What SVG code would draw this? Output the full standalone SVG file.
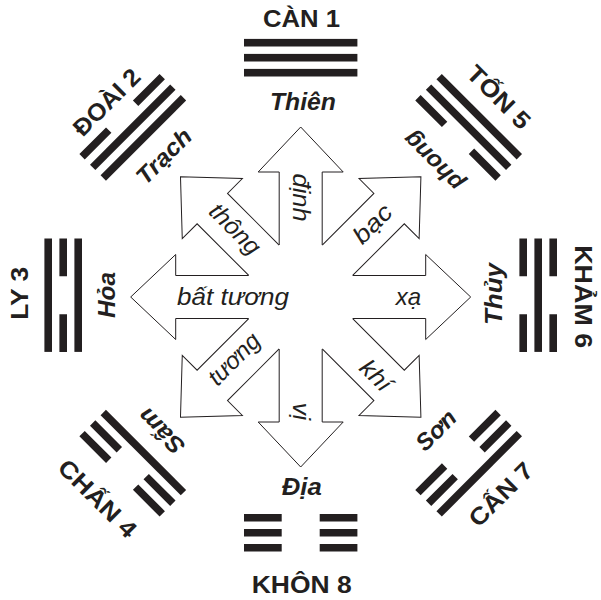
<svg xmlns="http://www.w3.org/2000/svg" width="601" height="600" viewBox="0 0 601 600">
<style>
text{font-family:"Liberation Sans",Arial,sans-serif;fill:#231f20;text-anchor:middle}
.name{font-size:24px;font-weight:bold}
.elem{font-size:23.5px;font-weight:bold;font-style:italic}
.lbl{font-size:24px;font-style:italic}
</style>
<defs>
<rect id="yang" x="-56.7" y="-3.8" width="113.4" height="7.6" fill="#231f20"/>
<path id="yin" d="M-56.7,-3.8h37.7v7.6h-37.7z M19,-3.8h37.7v7.6h-37.7z" fill="#231f20"/>
<path id="arr" d="M-21.5,-52 L-21.5,-125 L-42.5,-125 L0,-170 L42.5,-125 L21.5,-125 L21.5,-52" fill="#fff" stroke="#231f20" stroke-width="1"/>
</defs>
<rect width="601" height="600" fill="#fff"/>

<g id="arrows">
  <g id="arrow-up"><use href="#arr" transform="translate(300.7,297) rotate(0)"/>
    <text class="lbl" transform="translate(300,197.5) rotate(90)" y="6.8" textLength="48" lengthAdjust="spacingAndGlyphs">định</text></g>
  <g id="arrow-upleft"><use href="#arr" transform="translate(300.7,297) rotate(-45)"/>
    <text class="lbl" transform="translate(234,230) rotate(45)" y="6.6" textLength="62" lengthAdjust="spacingAndGlyphs">thông</text></g>
  <g id="arrow-upright"><use href="#arr" transform="translate(300.7,297) rotate(45)"/>
    <text class="lbl" transform="translate(372.5,224) rotate(-45)" y="7.9" textLength="45" lengthAdjust="spacingAndGlyphs">bạc</text></g>
  <g id="arrow-left"><use href="#arr" transform="translate(300.7,297) rotate(-90)"/>
    <text class="lbl" x="233" y="305" textLength="112" lengthAdjust="spacingAndGlyphs">bất tương</text></g>
  <g id="arrow-right"><use href="#arr" transform="translate(300.7,297) rotate(90)"/>
    <text class="lbl" x="408.4" y="305">xạ</text></g>
  <g id="arrow-downleft"><use href="#arr" transform="translate(300.7,297) rotate(-135)"/>
    <text class="lbl" transform="translate(235,360) rotate(-45)" y="6.6" textLength="63" lengthAdjust="spacingAndGlyphs">tương</text></g>
  <g id="arrow-downright"><use href="#arr" transform="translate(300.7,297) rotate(135)"/>
    <text class="lbl" transform="translate(376.5,375) rotate(45)" y="9" textLength="34" lengthAdjust="spacingAndGlyphs">khí</text></g>
  <g id="arrow-down"><use href="#arr" transform="translate(300.7,297) rotate(180)"/>
    <text class="lbl" transform="translate(299,411.5) rotate(90)" y="6.5">vị</text></g>
</g>

<g id="can">
  <g transform="translate(300.7,295.2) rotate(0)"><use href="#yang" y="-222.5"/><use href="#yang" y="-237.5"/><use href="#yang" y="-252.5"/></g>
  <text class="name" x="301.5" y="26.7" textLength="77" lengthAdjust="spacingAndGlyphs">CÀN 1</text>
  <text class="elem" x="303" y="110" textLength="66" lengthAdjust="spacingAndGlyphs">Thiên</text>
</g>
<g id="doai">
  <g transform="translate(300.7,295.2) rotate(-45)"><use href="#yang" y="-222.5"/><use href="#yang" y="-237.5"/><use href="#yin" y="-252.5"/></g>
  <text class="name" transform="translate(106.5,102) rotate(-45)" y="8.5" textLength="84" lengthAdjust="spacingAndGlyphs">ĐOÀI 2</text>
  <text class="elem" transform="translate(163.7,156) rotate(-45)" y="8.3" textLength="68" lengthAdjust="spacingAndGlyphs">Trạch</text>
</g>
<g id="ton">
  <g transform="translate(300.7,295.2) rotate(45)"><use href="#yin" y="-222.5"/><use href="#yang" y="-237.5"/><use href="#yang" y="-252.5"/></g>
  <text class="name" transform="translate(499,97) rotate(45)" y="8.5" textLength="79" lengthAdjust="spacingAndGlyphs">TỐN 5</text>
  <text class="elem" transform="translate(436,158.5) rotate(225)" y="3.7" textLength="74" lengthAdjust="spacingAndGlyphs">phong</text>
</g>
<g id="ly">
  <g transform="translate(300.7,295.2) rotate(-90)"><use href="#yang" y="-222.5"/><use href="#yin" y="-237.5"/><use href="#yang" y="-252.5"/></g>
  <text class="name" transform="translate(28.3,293.3) rotate(-90)" textLength="53" lengthAdjust="spacingAndGlyphs">LY 3</text>
  <text class="elem" transform="translate(115,295) rotate(-90)" textLength="46" lengthAdjust="spacingAndGlyphs">Hỏa</text>
</g>
<g id="kham">
  <g transform="translate(300.7,295.2) rotate(90)"><use href="#yin" y="-222.5"/><use href="#yang" y="-237.5"/><use href="#yin" y="-252.5"/></g>
  <text class="name" transform="translate(575,296.7) rotate(90)" textLength="103" lengthAdjust="spacingAndGlyphs">KHẢM 6</text>
  <text class="elem" transform="translate(501.7,294) rotate(-90)" textLength="62" lengthAdjust="spacingAndGlyphs">Thủy</text>
</g>
<g id="chan">
  <g transform="translate(300.7,295.2) rotate(-135)"><use href="#yang" y="-222.5"/><use href="#yin" y="-237.5"/><use href="#yin" y="-252.5"/></g>
  <text class="name" transform="translate(97.7,498.3) rotate(45)" y="8.5" textLength="100" lengthAdjust="spacingAndGlyphs">CHẤN 4</text>
  <text class="elem" transform="translate(161.8,430.8) rotate(225)" y="7.3" textLength="55" lengthAdjust="spacingAndGlyphs">Sấm</text>
</g>
<g id="can7">
  <g transform="translate(300.7,295.2) rotate(135)"><use href="#yin" y="-222.5"/><use href="#yin" y="-237.5"/><use href="#yang" y="-252.5"/></g>
  <text class="name" transform="translate(500.7,494.3) rotate(-45)" y="8.5" textLength="80" lengthAdjust="spacingAndGlyphs">CẤN 7</text>
  <text class="elem" transform="translate(436.5,430.8) rotate(-45)" y="7.3" textLength="47" lengthAdjust="spacingAndGlyphs">Sơn</text>
</g>
<g id="khon">
  <g transform="translate(300.7,295.2) rotate(180)"><use href="#yin" y="-222.5"/><use href="#yin" y="-237.5"/><use href="#yin" y="-252.5"/></g>
  <text class="name" x="301.7" y="593.3" textLength="100" lengthAdjust="spacingAndGlyphs">KHÔN 8</text>
  <text class="elem" x="301.7" y="495" textLength="40" lengthAdjust="spacingAndGlyphs">Địa</text>
</g>
</svg>
